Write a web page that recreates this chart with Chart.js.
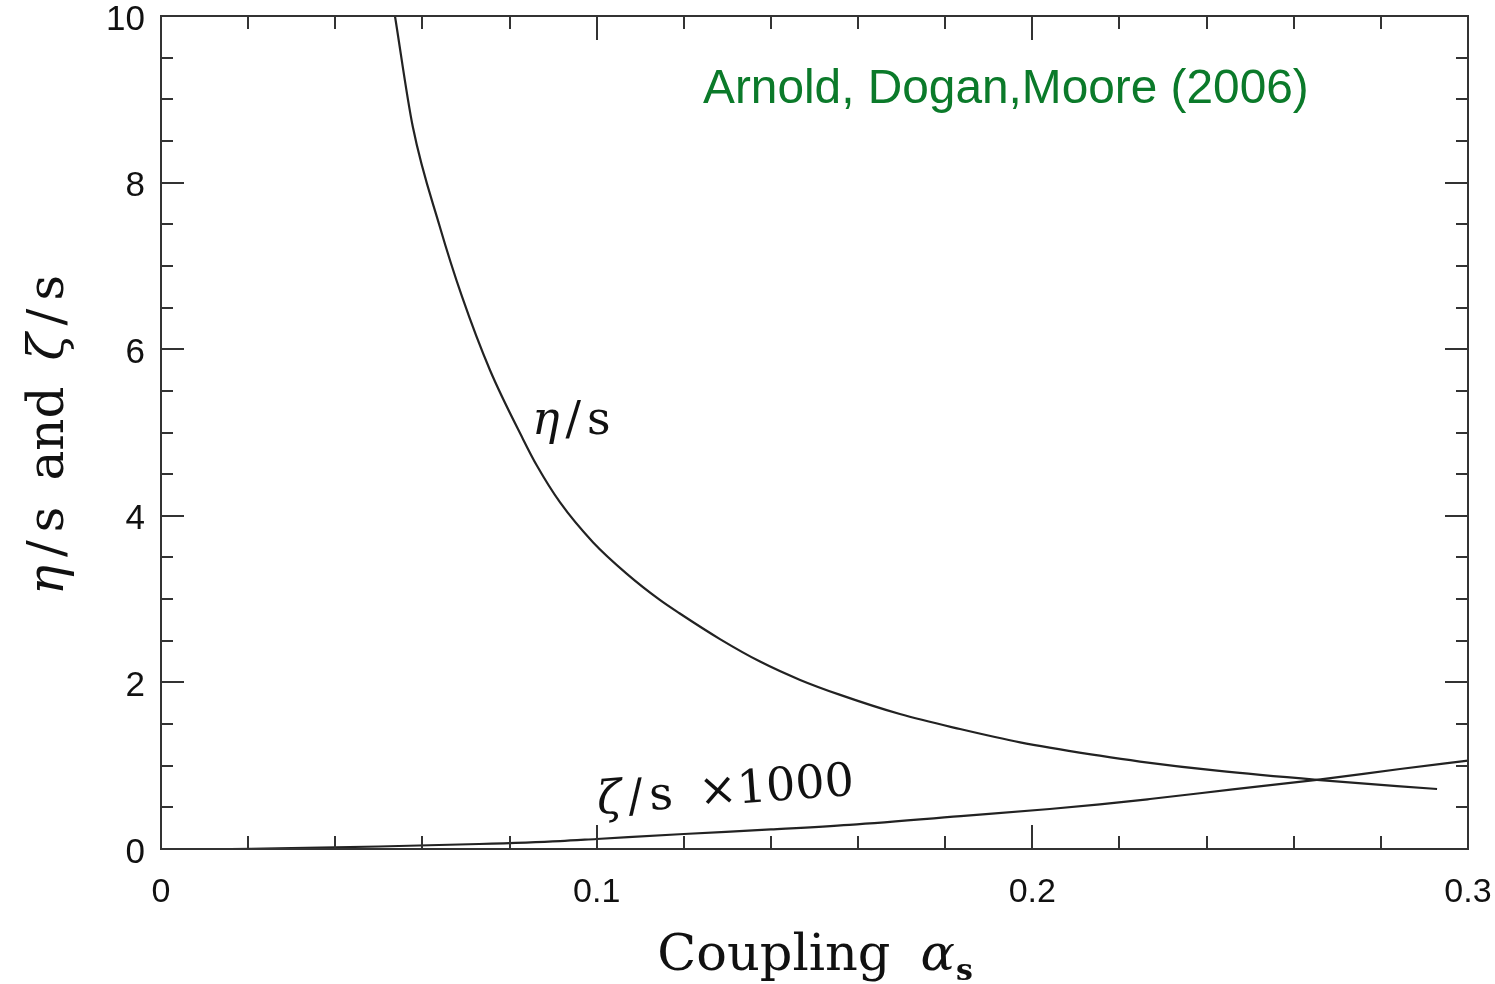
<!DOCTYPE html>
<html>
<head>
<meta charset="utf-8">
<script src="https://cdn.jsdelivr.net/npm/chart.js@4.4.1/dist/chart.umd.min.js"></script>
<style>
  html, body { margin: 0; padding: 0; background: #fff; }
  #wrap { width: 1495px; height: 984px; }
</style>
</head>
<body>
<div id="wrap"><canvas id="chart"></canvas></div>
<script>
// values
const alphaEta = [0.0537, 0.0578, 0.0640, 0.0691, 0.0755, 0.0831, 0.0863, 0.0916, 0.0992, 0.1070, 0.1145, 0.1190, 0.1283, 0.1375, 0.1467, 0.1559, 0.1696, 0.1834, 0.1972, 0.2155, 0.2247, 0.2424, 0.2653, 0.2929];
const etaOverS = [10.0, 8.67, 7.47, 6.63, 5.75, 4.92, 4.60, 4.16, 3.68, 3.30, 2.99, 2.83, 2.52, 2.25, 2.03, 1.85, 1.62, 1.44, 1.28, 1.12, 1.05, 0.94, 0.83, 0.72];

const alphaZeta = [0.016, 0.030, 0.050, 0.073, 0.0916, 0.100, 0.120, 0.140, 0.158, 0.185, 0.204, 0.2155, 0.227, 0.246, 0.2653, 0.2844, 0.300];
const zetaOverS = [0.00, 0.01, 0.03, 0.06, 0.095, 0.12, 0.18, 0.235, 0.29, 0.40, 0.48, 0.535, 0.60, 0.715, 0.83, 0.96, 1.06];

const xMajorTicks = [0, 0.1, 0.2, 0.3];
const xTickLabels = ['0', '0.1', '0.2', '0.3'];
const yMajorTicks = [0, 2, 4, 6, 8, 10];
const yTickLabels = ['0', '2', '4', '6', '8', '10'];
const xMinorStep = 0.02;
const yMinorStep = 0.5;

const SERIF = '"DejaVu Serif", "Liberation Serif", serif';
const SANS = '"Liberation Sans", Arial, sans-serif';

function toPoints(xs, ys) {
    return xs.map((x, i) => ({ x: x, y: ys[i] }));
}

// draw a run of text pieces with different fonts
function drawRuns(ctx, runs, x, y) {
    let cx = x;
    runs.forEach(r => {
        ctx.font = r.font;
        ctx.fillText(r.text, cx, y + (r.dy || 0));
        cx += ctx.measureText(r.text).width + (r.gap || 0);
    });
    return cx - x;
}
function runsWidth(ctx, runs) {
    let w = 0;
    runs.forEach(r => { ctx.font = r.font; w += ctx.measureText(r.text).width + (r.gap || 0); });
    return w;
}

// frame, inside ticks on all four sides, tick labels and texts
const framePlugin = {
    id: 'frame',
    afterDraw(chart) {
        const ctx = chart.ctx;
        const a = chart.chartArea;
        const xs = chart.scales.x, ys = chart.scales.y;
        ctx.save();
        ctx.strokeStyle = '#333';
        ctx.lineWidth = 2;
        ctx.strokeRect(a.left, a.top, a.right - a.left, a.bottom - a.top);

        ctx.beginPath();
        for (let i = 0; i <= Math.round(0.3 / xMinorStep); i++) {
            const v = i * xMinorStep;
            const major = xMajorTicks.some(t => Math.abs(t - v) < 1e-6);
            const len = major ? 24 : 13;
            const px = Math.round(xs.getPixelForValue(v));
            ctx.moveTo(px, a.bottom); ctx.lineTo(px, a.bottom - len);
            ctx.moveTo(px, a.top); ctx.lineTo(px, a.top + len);
        }
        for (let i = 0; i <= Math.round(10 / yMinorStep); i++) {
            const v = i * yMinorStep;
            const major = yMajorTicks.some(t => Math.abs(t - v) < 1e-6);
            const len = major ? 23 : 12;
            const py = Math.round(ys.getPixelForValue(v));
            ctx.moveTo(a.left, py); ctx.lineTo(a.left + len, py);
            ctx.moveTo(a.right, py); ctx.lineTo(a.right - len, py);
        }
        ctx.stroke();

        // tick labels
        ctx.fillStyle = '#111';
        ctx.font = '34px ' + SANS;
        ctx.textAlign = 'center';
        ctx.textBaseline = 'alphabetic';
        xMajorTicks.forEach((v, i) => ctx.fillText(xTickLabels[i], xs.getPixelForValue(v), 902));
        ctx.font = '35px ' + SANS;
        ctx.textAlign = 'right';
        ctx.textBaseline = 'middle';
        yMajorTicks.forEach((v, i) => ctx.fillText(yTickLabels[i], a.left - 16, ys.getPixelForValue(v) + 4));

        // curve labels
        ctx.textAlign = 'left';
        ctx.textBaseline = 'alphabetic';
        drawRuns(ctx, [
            { text: 'η', font: 'italic 46px ' + SERIF, gap: 6 },
            { text: '/', font: '46px ' + SERIF, gap: 6 },
            { text: 's', font: '46px ' + SERIF }
        ], 532, 434);

        ctx.save();
        ctx.translate(598, 814);
        ctx.rotate(-4.3 * Math.PI / 180);
        drawRuns(ctx, [
            { text: 'ζ', font: 'italic 46px ' + SERIF, gap: 6 },
            { text: '/', font: '46px ' + SERIF, gap: 6 },
            { text: 's', font: '46px ' + SERIF, gap: 26 },
            { text: '×1000', font: '46px ' + SERIF }
        ], 0, 0);
        ctx.restore();

        // reference
        ctx.fillStyle = '#0b7a2a';
        ctx.font = '47.8px ' + SANS;
        ctx.fillText('Arnold, Dogan,Moore (2006)', 703, 103);

        // x title
        ctx.fillStyle = '#111';
        const xt = [
            { text: 'Coupling', font: '51px ' + SERIF, gap: 30 },
            { text: 'α', font: 'italic 51px ' + SERIF, gap: 1 },
            { text: 's', font: 'bold 30px ' + SERIF, dy: 10 }
        ];
        drawRuns(ctx, xt, 815 - runsWidth(ctx, xt) / 2, 970);

        // y title
        ctx.save();
        ctx.translate(63, 435);
        ctx.rotate(-Math.PI / 2);
        const yt = [
            { text: 'η', font: 'italic 50px ' + SERIF, gap: 8 },
            { text: '/', font: '50px ' + SERIF, gap: 8 },
            { text: 's', font: '50px ' + SERIF, gap: 26 },
            { text: 'and', font: '50px ' + SERIF, gap: 26 },
            { text: 'ζ', font: 'italic 50px ' + SERIF, gap: 8 },
            { text: '/', font: '50px ' + SERIF, gap: 8 },
            { text: 's', font: '50px ' + SERIF }
        ];
        drawRuns(ctx, yt, -runsWidth(ctx, yt) / 2, 0);
        ctx.restore();

        ctx.restore();
    }
};

const lineStyle = {
    showLine: true,
    borderColor: '#222',
    borderWidth: 2.2,
    pointRadius: 0,
    fill: false,
    cubicInterpolationMode: 'monotone'
};

new Chart(document.getElementById('chart'), {
    type: 'scatter',
    data: {
        datasets: [
            Object.assign({ label: 'η/s', data: toPoints(alphaEta, etaOverS) }, lineStyle),
            Object.assign({ label: 'ζ/s ×1000', data: toPoints(alphaZeta, zetaOverS) }, lineStyle)
        ]
    },
    options: {
        responsive: true,
        maintainAspectRatio: false,
        animation: false,
        layout: { padding: { top: 16, right: 27, left: 0, bottom: 0 } },
        plugins: { legend: { display: false }, tooltip: { enabled: false } },
        scales: {
            x: {
                type: 'linear', min: 0, max: 0.3,
                grid: { display: false, drawTicks: false },
                border: { display: false },
                afterFit(s) { s.height = 135; },
                ticks: { display: false, stepSize: 0.1 }
            },
            y: {
                type: 'linear', min: 0, max: 10,
                grid: { display: false, drawTicks: false },
                border: { display: false },
                afterFit(s) { s.width = 161; },
                ticks: { display: false, stepSize: 2 }
            }
        }
    },
    plugins: [framePlugin]
});
</script>
</body>
</html>
